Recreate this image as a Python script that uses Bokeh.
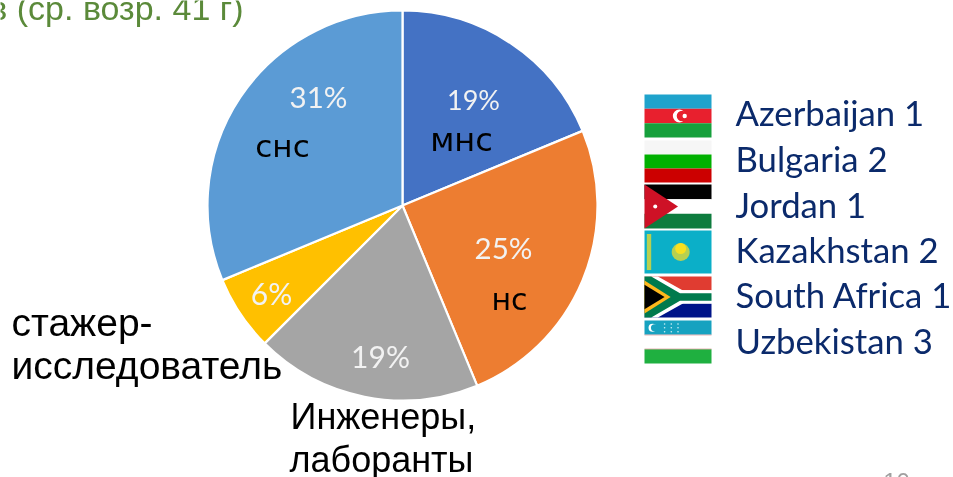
import math
from bokeh.plotting import figure
from bokeh.models import Range1d
from bokeh.core.properties import value
from bokeh.embed import file_html
from bokeh.resources import INLINE

# ---- data ----
categories = ["мнс", "нс", "Инженеры, лаборанты", "стажер-исследователь", "снс"]
counts = [3, 4, 3, 1, 5]
percent_labels = ["19%", "25%", "19%", "6%", "31%"]
slice_colors = ["#4472C4", "#ED7D31", "#A5A5A5", "#FFC000", "#5B9BD5"]
countries = ["Azerbaijan 1", "Bulgaria 2", "Jordan 1", "Kazakhstan 2", "South Africa 1", "Uzbekistan 3"]

W, H = 953, 477
p = figure(width=W, height=H, output_backend="svg", toolbar_location=None,
           x_range=Range1d(0, W), y_range=Range1d(H, 0),
           min_border=0, outline_line_color=None, background_fill_color="white",
           border_fill_color="white")
p.styles = {"position": "fixed", "left": "0px", "top": "0px"}
p.axis.visible = False
p.grid.visible = False

# pie: clockwise from 12 o'clock
cx, cy, r = 402, 205, 195
total = sum(counts)
a = math.pi / 2
starts, ends = [], []
for c in counts:
    starts.append(a)
    a -= 2 * math.pi * c / total
    ends.append(a)
p.wedge(x=[cx] * 5, y=[cy] * 5, radius=[r] * 5, start_angle=starts, end_angle=ends,
        direction="clock", fill_color=slice_colors,
        line_color="white", line_width=2.2)


def txt(x, y, s, size, color="black", font="Liberation Sans", align="left"):
    # y is the wanted baseline; the inverted axis renders text about 0.41 em low
    p.text(x=[x], y=[y - 0.41 * size], text=[s], text_font=value(font), text_font_size=f"{size}px",
           text_color=color, text_baseline="alphabetic", text_align=align)


pct_pos = [(473, 110), (503, 259), (380, 368), (271, 305), (318, 108)]
pct_size = [27, 29.5, 30, 30, 29.5]
for (x, y), s, sz in zip(pct_pos, percent_labels, pct_size):
    txt(x, y, s, sz, "#F2F2F2", "Lato", "center")

txt(461, 153, categories[0], 32, "black", "DejaVu Sans", "center")
txt(509, 311, categories[1], 30, "black", "DejaVu Sans", "center")
txt(282, 158, categories[4], 31, "black", "DejaVu Sans", "center")
txt(290, 431, "Инженеры,", 36, "black")
txt(289, 474, "лаборанты", 36, "black")
txt(11, 338, "стажер-", 39, "black")
txt(11, 381, "исследователь", 39, "black")
txt(243, 21, "в (ср. возр. 41 г)", 34, "#5B8A3A", "Liberation Sans", "right")
txt(896, 491, "10", 24, "#A0A0A0", "Liberation Sans", "center")

# legend text
for s, y in zip(countries, [126, 172, 218, 263, 308, 354]):
    txt(735, y, s, 34.7, "#0B2A6B", "Lato")

# flags
fx0, fx1 = 644, 711
boxes = [(94, 137), (140, 182), (184, 228), (230, 273), (276, 317), (320, 363)]


def poly(box, pts, color):
    y0, y1 = box
    p.patch([fx0 + (fx1 - fx0) * u for u, v in pts], [y0 + (y1 - y0) * v for u, v in pts],
            fill_color=color, line_color=None)


def stripes(box, cols):
    n = len(cols)
    for i, c in enumerate(cols):
        poly(box, [(0, i / n), (1, i / n), (1, (i + 1) / n), (0, (i + 1) / n)], c)


def dot(box, u, v, rad, color):
    y0, y1 = box
    p.circle(x=[fx0 + (fx1 - fx0) * u], y=[y0 + (y1 - y0) * v], radius=rad, fill_color=color, line_color=None)


# Azerbaijan
stripes(boxes[0], ["#1FA3CC", "#E8202E", "#16A03C"])
dot(boxes[0], .52, .5, 6.5, "white")
dot(boxes[0], .56, .5, 5.3, "#E8202E")
dot(boxes[0], .6, .5, 2.2, "white")
# Bulgaria
stripes(boxes[1], ["#F6F6F6", "#00B000", "#CC0000"])
# Jordan
stripes(boxes[2], ["#000000", "#FFFFFF", "#0E7C3E"])
poly(boxes[2], [(0, 0), (.5, .5), (0, 1)], "#CE1126")
dot(boxes[2], .16, .5, 2, "white")
# Kazakhstan
stripes(boxes[3], ["#0BAFC8"])
poly(boxes[3], [(.035, .08), (.1, .08), (.1, .92), (.035, .92)], "#B8D050")
dot(boxes[3], .54, .5, 9, "#B8D050")
dot(boxes[3], .54, .42, 5.5, "#F8E020")
# South Africa
stripes(boxes[4], ["#E03C31", "#FFFFFF", "#001489"])
poly(boxes[4], [(0, 0), (.2, 0), (.58, .35), (1, .35), (1, .65), (.58, .65), (.2, 1), (0, 1)], "#FFFFFF")
poly(boxes[4], [(0, 0), (.1, 0), (.53, .41), (1, .41), (1, .59), (.53, .59), (.1, 1), (0, 1)], "#007A4D")
poly(boxes[4], [(0, .1), (.39, .5), (0, .9)], "#FFB81C")
poly(boxes[4], [(0, .2), (.3, .5), (0, .8)], "#000000")
# Uzbekistan
stripes(boxes[5], ["#17A2C0", "#FFFFFF", "#1FB040"])
poly(boxes[5], [(0, .33), (1, .33), (1, .345), (0, .345)], "#CE6A6A")
poly(boxes[5], [(0, .655), (1, .655), (1, .67), (0, .67)], "#CE6A6A")
dot(boxes[5], .12, .17, 4, "white")
dot(boxes[5], .15, .17, 3.6, "#17A2C0")
for u in (.3, .4, .5):
    for v in (.08, .17, .26):
        dot(boxes[5], u, v, .8, "#D0F0F5")

open("out.html", "w").write(file_html(p, INLINE))
